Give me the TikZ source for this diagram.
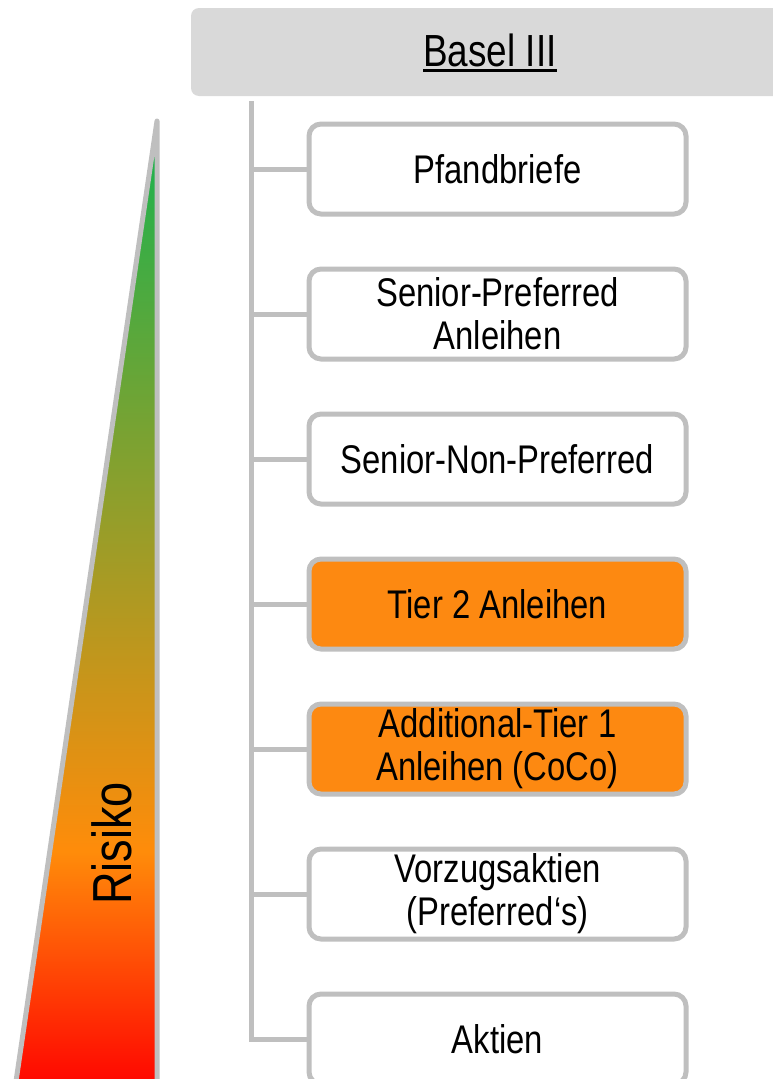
\documentclass[tikz,border=0pt]{standalone}
\usepackage{fontspec}
\setmainfont{Liberation Sans}[FakeStretch=0.82]
\definecolor{linegrey}{RGB}{191,191,191}
\definecolor{headgrey}{RGB}{217,217,217}
\definecolor{boxorange}{RGB}{253,137,17}
\definecolor{riskgreen}{RGB}{34,177,76}
\definecolor{riskorange}{RGB}{255,140,10}
\definecolor{riskred}{RGB}{255,0,0}
\pgfdeclareverticalshading{risk}{100bp}{color(0bp)=(riskred); color(25bp)=(riskred); color(37.5bp)=(riskorange); color(73bp)=(riskgreen); color(100bp)=(riskgreen)}
\begin{document}
\begin{tikzpicture}[x=1pt,y=-1pt,
  boxstyle/.style={draw=linegrey, line width=5pt, rounded corners=12pt, fill=white,
    minimum width=377pt, minimum height=90pt, inner sep=0pt, align=center,
    font=\fontsize{40}{43}\selectfont},
  hot/.style={boxstyle, fill=boxorange},
  tree/.style={draw=linegrey, line width=5pt, line join=miter}]
\useasboundingbox (0,0) rectangle (773,1079);
% header
\fill[headgrey, rounded corners=8pt] (191,8) rectangle (800,96);
\node[font=\fontsize{45}{45}\selectfont, inner sep=0pt, anchor=base] (title) at (490,66.7) {Basel III};
\draw[line width=3pt] ([yshift=-3.5pt]title.base west) -- ([yshift=-3.5pt]title.base east);
% risk triangle
\shadedraw[shading=risk, draw=linegrey, line width=5pt, line join=round]
  (157,121) -- (157,1095) -- (14,1095) -- cycle;
\node[rotate=90, anchor=base, inner sep=0pt, font=\fontsize{55}{55}\selectfont] (risk) at (131,843.5) {Risiko};
% boxes
\node[boxstyle] (b1) at (497.5,169) {Pfandbriefe};
\node[boxstyle] (b2) at (497.5,314) {Senior-Preferred\\Anleihen};
\node[boxstyle] (b3) at (497.5,459) {Senior-Non-Preferred};
\node[hot] (b4) at (497.5,604) {Tier 2 Anleihen};
\node[hot] (b5) at (497.5,749) {Additional-Tier 1\\Anleihen (CoCo)};
\node[boxstyle] (b6) at (497.5,894) {Vorzugsaktien\\(Preferred‘s)};
\node[boxstyle] (b7) at (497.5,1039) {Aktien};
% tree
\coordinate (trunk) at (251,101);
\draw[tree] (trunk) |- (b7.west);
\foreach \b in {b1,b2,b3,b4,b5,b6} \draw[tree] (trunk |- \b.west) -- (\b.west);
\end{tikzpicture}
\end{document}
